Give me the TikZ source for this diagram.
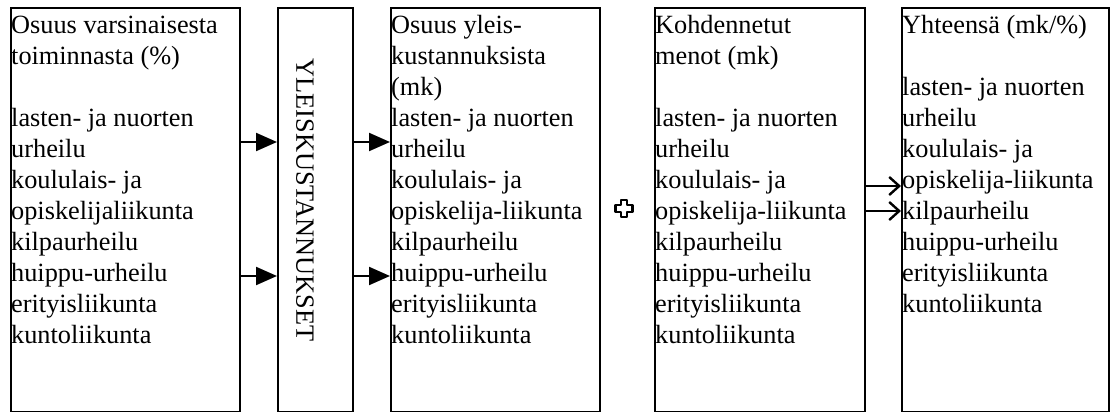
\documentclass[tikz,border=0pt]{standalone}
\usepackage{fontspec}
\setmainfont{Liberation Serif}
\usetikzlibrary{arrows.meta}
\newcommand\fstrut{\rule{0pt}{24pt}}
\begin{document}
\begin{tikzpicture}[x=1pt,y=-1pt,
  box/.style={draw, line width=2.2pt, anchor=north west, inner sep=0pt, minimum height=403.5pt},
  txt/.style={anchor=north west, inner sep=0pt, align=left, font=\fontsize{26.3}{31}\selectfont},
  farrow/.style={line width=2.2pt, -{Triangle[length=21pt,width=18pt]}},
  oarrow/.style={line width=2.4pt, -{Straight Barb[length=10pt,width=18pt,line width=2.4pt]}},
  plus/.style={line width=2.3pt, line join=round}
]
\useasboundingbox (0,0) rectangle (1111,412);

% boxes
\node[box, minimum width=229pt] (b1) at (10,7) {};
\node[box, minimum width=75pt]  (b2) at (277,7) {};
\node[box, minimum width=209pt] (b3) at (390,7) {};
\node[box, minimum width=210pt] (b4) at (654,7) {};
\node[box, minimum width=207pt] (b5) at (901,7) {};

% texts
\node[txt] (t1) at (11,9) {\fstrut Osuus varsinaisesta\\ toiminnasta (\%)\\[31pt]
lasten- ja nuorten\\ urheilu\\ koululais- ja\\ opiskelijaliikunta\\ kilpaurheilu\\ huippu-urheilu\\ erityisliikunta\\ kuntoliikunta};
\node[rotate=-90, inner sep=0pt, font=\fontsize{26.3}{31}\selectfont] (t2) at (305,200) {YLEISKUSTANNUKSET};
\node[txt] (t3) at (391,9) {\fstrut Osuus yleis-\\ kustannuksista\\ (mk)\\
lasten- ja nuorten\\ urheilu\\ koululais- ja\\ opiskelija-liikunta\\ kilpaurheilu\\ huippu-urheilu\\ erityisliikunta\\ kuntoliikunta};
\node[txt] (t4) at (655,9) {\fstrut Kohdennetut\\ menot (mk)\\[31pt]
lasten- ja nuorten\\ urheilu\\ koululais- ja\\ opiskelija-liikunta\\ kilpaurheilu\\ huippu-urheilu\\ erityisliikunta\\ kuntoliikunta};
\node[txt] (t5) at (902,9) {\fstrut Yhteensä (mk/\%)\\[31pt]
lasten- ja nuorten\\ urheilu\\ koululais- ja\\ opiskelija-liikunta\\ kilpaurheilu\\ huippu-urheilu\\ erityisliikunta\\ kuntoliikunta};

% connector rows
\coordinate (r1) at (0,142);
\coordinate (r2) at (0,276);
\coordinate (r3) at (0,186);
\coordinate (r4) at (0,211);

\draw[farrow] (b1.east |- r1) -- (b2.west |- r1);
\draw[farrow] (b1.east |- r2) -- (b2.west |- r2);
\draw[farrow] (b2.east |- r1) -- (b3.west |- r1);
\draw[farrow] (b2.east |- r2) -- (b3.west |- r2);
\draw[oarrow] (b4.east |- r3) -- (b5.west |- r3);
\draw[oarrow] (b4.east |- r4) -- (b5.west |- r4);

% plus sign
\coordinate (pc) at (624,208.5);
\draw[plus, shift={(pc)}] (-3.3,-8.5) -- (3.3,-8.5) -- (3.3,-3.3) -- (8.5,-3.3) -- (8.5,3.3) -- (3.3,3.3) -- (3.3,8.5) -- (-3.3,8.5) -- (-3.3,3.3) -- (-8.5,3.3) -- (-8.5,-3.3) -- (-3.3,-3.3) -- cycle;
\end{tikzpicture}
\end{document}
